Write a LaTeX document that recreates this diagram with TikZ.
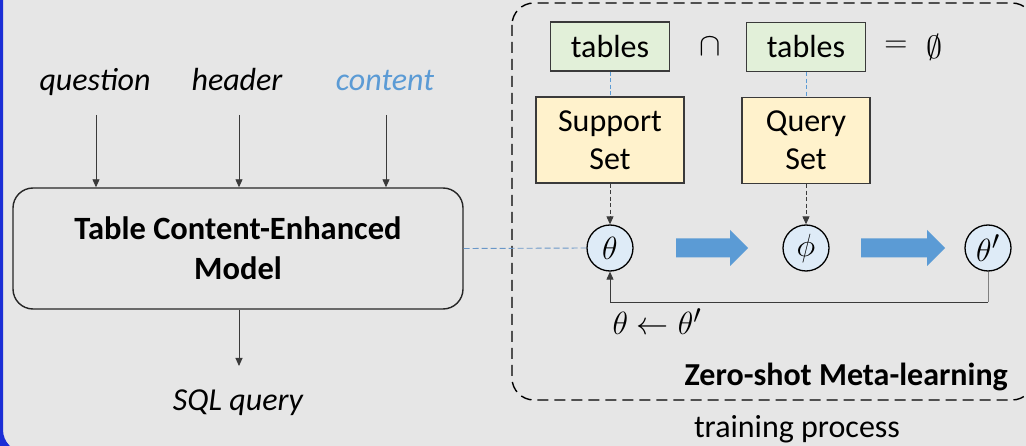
\documentclass[tikz,border=0pt]{standalone}
\usepackage{graphicx}
\usepackage{fontspec}
\setmainfont{Carlito}
\usetikzlibrary{arrows.meta}

\definecolor{bggray}{HTML}{E6E6E6}
\definecolor{frameblue}{HTML}{1B2ED6}
\definecolor{tablegreen}{HTML}{E2F0D9}
\definecolor{setyellow}{HTML}{FFF2CC}
\definecolor{paramblue}{HTML}{DEEBF7}
\definecolor{flowblue}{HTML}{5B9BD5}
\definecolor{linkblue}{HTML}{6A97C8}
\definecolor{edgegray}{HTML}{3A3A3A}
\definecolor{contentblue}{HTML}{5B9BD5}

% math fonts stop growing at 24.88pt, so larger formulas are scaled up
\newcommand{\largemath}[1]{\scalebox{1.29}{$#1$}}

\begin{document}
\begin{tikzpicture}[x=1pt,y=-1pt,
  every node/.style={font=\fontsize{32}{38}\selectfont, inner sep=0pt},
  inlabel/.style={font=\fontsize{32}{38}\selectfont\itshape, anchor=base},
  flow/.style={-{Triangle[length=8pt,width=7pt]}, line width=0.9pt, draw=edgegray},
  dflow/.style={flow, dash pattern=on 4pt off 2.5pt},
  link/.style={draw=linkblue, line width=0.9pt, dash pattern=on 6pt off 3pt},
  modelbox/.style={draw=black!85, line width=1.4pt, rounded corners=20pt,
    minimum width=450pt, minimum height=121pt, align=center,
    font=\fontsize{32.5}{40}\selectfont\bfseries},
  tablebox/.style={draw=edgegray, line width=1.4pt, fill=tablegreen,
    minimum width=119pt, minimum height=49pt},
  setbox/.style={draw=edgegray, line width=1.4pt, fill=setyellow,
    minimum width=148pt, minimum height=86pt, align=center},
  param/.style={circle, draw=black, line width=1.3pt, fill=paramblue, minimum size=46pt},
  pics/blockarrow/.style={code={
    \fill[flowblue] (0,-9.5) -- (#1-18,-9.5) -- (#1-18,-18) -- (#1,0)
      -- (#1-18,18) -- (#1-18,9.5) -- (0,9.5) -- cycle;}}
]
\useasboundingbox (0,0) rectangle (1026,446);

% slide background and frame
\fill[bggray] (0,0) rectangle (1026,446);
\draw[frameblue, line width=8pt, rounded corners=26pt] (-1,-80) rectangle (1300,456);

% meta-learning group
\draw[black, line width=1.4pt, dash pattern=on 11pt off 6pt, rounded corners=22pt]
  (512,3) rectangle (1034,400);

% ---------- inference model ----------
\node[inlabel] (q) at (95,91) {question};
\node[inlabel] (h) at (237,91) {header};
\node[inlabel, text=contentblue] (c) at (385,91) {content};

\node[modelbox] (model) at (238,248.5) {Table Content-Enhanced\\Model};

\coordinate (qs) at (96,115);
\coordinate (hs) at (239,115);
\coordinate (cs) at (386,115);
\draw[flow] (qs) -- (qs |- model.north);
\draw[flow] (hs) -- (hs |- model.north);
\draw[flow] (cs) -- (cs |- model.north);

\coordinate (out) at (239,366);
\draw[flow] (model.south -| out) -- (out);
\node[inlabel] (sql) at (238,410) {SQL query};

% ---------- zero-shot meta-learning ----------
\node[tablebox] (tab1) at (610,46.5) {tables};
\node (cap) at (710,47) {\largemath{\cap}};
\node[tablebox] (tab2) at (806,47) {tables};
\node (eq) at (896,47) {\largemath{=}};
\node (empty) at (935,47) {\largemath{\emptyset}};

\node[setbox] (sup) at (610,140) {Support\\Set};
\node[setbox, minimum width=128pt] (qry) at (806,140.5) {Query\\Set};

\draw[link, draw=flowblue, dash pattern=on 4pt off 2.5pt] (tab1.south) -- (sup.north);
\draw[link, draw=flowblue, dash pattern=on 4pt off 2.5pt] (tab2.south) -- (qry.north);

\node[param] (th) at (610,248) {\largemath{\theta}};
\node[param] (ph) at (806,248) {\largemath{\phi}};
\node[param] (thp) at (988,248) {\largemath{\theta'}};

\draw[dflow] (sup.south) -- (th.north);
\draw[dflow] (qry.south) -- (ph.north);

% update steps
\pic at (676,248) {blockarrow=72};
\pic at (861,248) {blockarrow=84};

\draw[link] (model.east) -- (th.west);

% parameter update loop
\coordinate (loop) at (988,302);
\draw[gray, line width=0.9pt] (thp.south) -- (loop);
\draw[flow] (loop) -| (th.south);
\node[anchor=base] (upd) at (657,335) {\largemath{\theta \leftarrow \theta'}};

\node[anchor=base east, font=\fontsize{32}{38}\selectfont\bfseries] (zs) at (1008,385) {Zero-shot Meta-learning};
\node[anchor=base] (train) at (797,437) {training process};
\end{tikzpicture}
\end{document}
